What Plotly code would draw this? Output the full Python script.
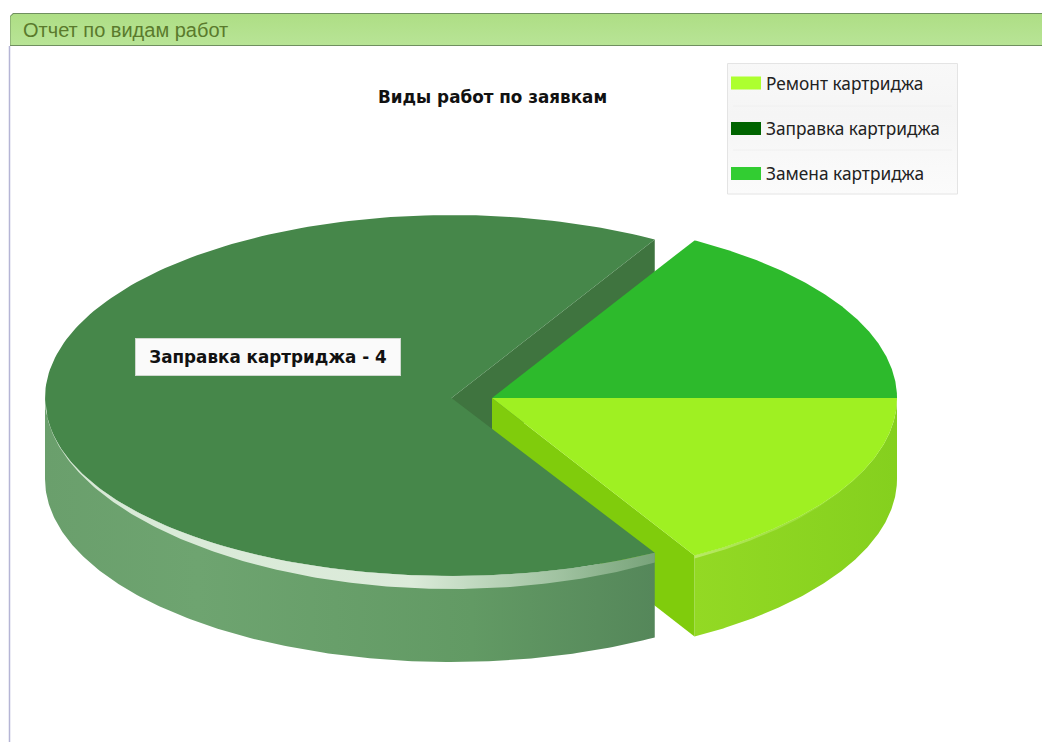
import numpy as np
import plotly.graph_objects as go

# Report data
categories = ["Ремонт картриджа", "Заправка картриджа", "Замена картриджа"]
values = [1, 4, 1]
legend_colors = ["#adff2f", "#006400", "#32cd32"]

page_title = "Отчет по видам работ"
chart_title = "Виды работ по заявкам"

# Pie geometry in page pixels
CX, CY = 492.0, 398.0
RX = [405.0, 406.5, 405.0]
RY = [182.0, 183.0, 182.0]
DEPTH = 81.0
EXPLODE = [0.0, 40.5, 0.0]
TOP_INSET = [0.0, -5.0, 0.0]
RIM_OUT = [4.0, 8.0, 4.0]

# Shading for each slice: top, cut face, side wall and rim stops from left to right
top_fill = ["#9ff022", "#46874a", "#2dba2c"]
cut_fill = ["#80cc0c", "#3f743f", "#259f24"]
wall_fill = [
    [[0, "#93d924"], [1, "#85d01e"]],
    [[0, "#6a9f6c"], [0.25, "#6ea470"], [0.7, "#629a64"], [1, "#55875a"]],
    [[0, "#259f24"], [1, "#259f24"]],
]
rim_fill = [
    [[0, "rgba(190,235,110,0.9)"], [1, "rgba(150,225,50,0.3)"]],
    [[0, "rgba(228,241,226,0.9)"], [0.6, "rgba(226,239,224,0.95)"], [0.85, "rgba(175,205,175,0.8)"],
     [1, "rgba(135,175,135,0.7)"]],
    [[0, "rgba(255,255,255,0)"], [1, "rgba(255,255,255,0)"]],
]

total = sum(values)
edges = np.concatenate([[0.0], np.cumsum(values)]) / total * 2 * np.pi
spans = list(zip(edges[:-1], edges[1:]))


def centre(i):
    mid = sum(spans[i]) / 2
    return CX + EXPLODE[i] * np.cos(mid), CY + EXPLODE[i] * np.sin(mid)


def arc(i, a, b, extra=0.0):
    # Ellipse arc; "extra" widens or narrows the radius along the front edge only
    cx, cy = centre(i)
    t = np.linspace(a, b, 200)
    s = np.sin(t)
    return cx + RX[i] * np.cos(t), cy + (RY[i] + extra * np.clip(s, 0, None)) * s


def poly(x, y, fill=None, stops=None, direction="horizontal"):
    kw = dict(x=list(x) + [x[0]], y=list(y) + [y[0]], mode="lines", line=dict(width=0),
              fill="toself", hoverinfo="skip", showlegend=False)
    if stops:
        kw["fillgradient"] = dict(type=direction, colorscale=stops)
    else:
        kw["fillcolor"] = fill
    return go.Scatter(**kw)


def top_trace(i):
    cx, cy = centre(i)
    ax, ay = arc(i, *spans[i], extra=TOP_INSET[i])
    return poly([cx, *ax], [cy, *ay], top_fill[i])


def cut_trace(i, angle):
    cx, cy = centre(i)
    ex, ey = cx + RX[i] * np.cos(angle), cy + RY[i] * np.sin(angle)
    return poly([cx, ex, ex, cx], [cy, ey, ey + DEPTH, cy + DEPTH], cut_fill[i])


def wall_trace(i):
    a, b = spans[i][0], min(spans[i][1], np.pi)
    ux, uy = arc(i, a, b, extra=TOP_INSET[i])
    lx, ly = arc(i, a, b)
    return poly([*ux, *lx[::-1]], [*uy, *(ly[::-1] + DEPTH)], stops=wall_fill[i])


def rim_trace(i):
    a, b = spans[i][0], min(spans[i][1], np.pi)
    ax, ay = arc(i, a, b, extra=TOP_INSET[i])
    ox, oy = arc(i, a, b, extra=RIM_OUT[i])
    return poly([*ax, *ox[::-1]], [*ay, *oy[::-1]], stops=rim_fill[i])


fig = go.Figure()

# Page header bar and frame
fig.add_trace(poly([10, 10, 13, 1042, 1042], [46, 16, 13, 13, 46], "#6f8f5f"))
fig.add_trace(poly([10.5, 10.5, 13.5, 1042, 1042], [45, 16.5, 14, 14, 45],
                   stops=[[0, "#b8e496"], [1, "#aede85"]], direction="vertical"))
fig.add_shape(type="line", x0=9.5, x1=9.5, y0=46, y1=742, line=dict(color="#b5b5d5", width=1.5))

# Legend panel behind the legend entries
fig.add_trace(poly([727.5, 957.5, 957.5, 727.5], [63.5, 63.5, 194, 194],
                   stops=[[0, "#fbfbfb"], [0.6, "#f5f5f5"], [1, "#f8f8f8"]], direction="vertical"))
for y_sep in (106, 150):
    fig.add_shape(type="line", x0=733, x1=952, y0=y_sep, y1=y_sep, line=dict(color="#f0f0f0", width=1))
fig.add_shape(type="rect", x0=727.5, x1=957.5, y0=63.5, y1=194, line=dict(color="#e4e4e4", width=1))

# Legend swatch backing, a little taller than Plotly's capped line sample
for i, y_row in enumerate((83, 128.5, 173.5)):
    fig.add_shape(type="rect", x0=731, x1=761, y0=y_row - 6.5, y1=y_row + 6.5,
                  fillcolor=legend_colors[i], line=dict(width=0))

# Back faces first, then the walls, then the top surfaces
fig.add_trace(cut_trace(1, spans[1][1]))
fig.add_trace(wall_trace(0))
fig.add_trace(cut_trace(0, spans[0][1]))
fig.add_trace(wall_trace(1))
fig.add_trace(top_trace(1))
fig.add_trace(rim_trace(1))
fig.add_trace(rim_trace(0))
fig.add_trace(top_trace(2))
fig.add_trace(top_trace(0))

# Legend entries
for i, name in enumerate(categories):
    fig.add_trace(go.Scatter(x=[None], y=[None], mode="lines", name=name, legendgroup=name,
                             line=dict(color=legend_colors[i], width=13), hoverinfo="skip"))

fig.add_annotation(x=21, y=29.5, xanchor="left", yanchor="middle", showarrow=False, text=page_title,
                   font=dict(family="Liberation Sans", size=20, color="#5a7a2c"))
fig.add_annotation(x=492, y=97, xanchor="center", yanchor="middle", showarrow=False, text=chart_title,
                   font=dict(family="DejaVu Sans", size=16.8, color="#111111", weight="bold"))
fig.add_annotation(x=267.5, y=357, xanchor="center", yanchor="middle", showarrow=False,
                   text=f"{categories[1]} - {values[1]}", width=262, height=34,
                   bgcolor="#fafafa", bordercolor="#cfd8cf", borderwidth=1,
                   font=dict(family="DejaVu Sans", size=16.8, color="#111111", weight="bold"))

fig.update_layout(
    width=1042, height=742, autosize=False, margin=dict(l=0, r=0, t=0, b=0),
    paper_bgcolor="white", plot_bgcolor="white",
    xaxis=dict(range=[0, 1042], visible=False, fixedrange=True),
    yaxis=dict(range=[742, 0], visible=False, fixedrange=True),
    showlegend=True,
    legend=dict(x=726 / 1042, y=1 - 66 / 742, xanchor="left", yanchor="top",
                bgcolor="rgba(0,0,0,0)", borderwidth=0, traceorder="grouped", tracegroupgap=19.5,
                itemclick=False, itemdoubleclick=False,
                font=dict(family="Noto Sans", size=17.3, color="#222222")),
)
fig.write_html("out.html", config=dict(displayModeBar=False))
